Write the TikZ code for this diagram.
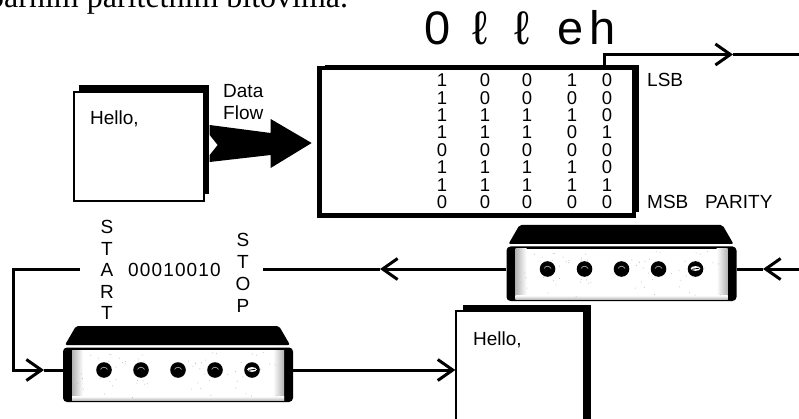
\documentclass[tikz,border=0pt]{standalone}
\usepackage{fontspec}
\setmainfont{Liberation Sans}
\newfontfamily\captionserif{Liberation Serif}
\usetikzlibrary{arrows.meta,calc,shadows}

\tikzset{
  wire/.style={line width=3pt},
  barb/.style={-{Straight Barb[length=15pt,width=21pt]}},
  txt/.style={inner sep=0pt, font=\fontsize{19}{22}\selectfont},
  bit/.style={inner sep=0pt, anchor=base, font=\fontsize{18.5}{19}\selectfont},
  glyph/.style={inner sep=0pt, anchor=base, font=\fontsize{47}{50}\selectfont},
  sheet/.style={draw, line width=1.3pt, fill=white, inner sep=0pt,
    general shadow={fill=black, shadow xshift=#1, shadow yshift=6.5pt}},
  sheet/.default=5pt,
  register/.style={draw, line width=4.5pt, fill=white, inner sep=0pt,
    minimum width=314.5pt, minimum height=147.5pt,
    general shadow={fill=black, shadow xshift=5pt, shadow yshift=3pt}},
  modembox/.style={inner sep=0pt, minimum width=230pt, minimum height=54pt},
  modem/.pic={
    % lid
    \fill[rounded corners=2pt] (-113,-25) -- (-102,-44) -- (101,-44) -- (112,-25) -- cycle;
    % case
    \fill[rounded corners=4pt] (-115,-22.5) rectangle (115,32);
    % front panel with a grainy finish
    \fill[white] (-106,-20) rectangle (106,30);
    \shade[left color=gray!60, right color=white] (-106,-20) rectangle (-95,30);
    \shade[left color=white, right color=gray!60] (95,-20) rectangle (106,30);
    \shade[top color=white, bottom color=gray!50] (-106,26.5) rectangle (106,30);
    \pgfmathsetseed{11}
    \foreach \i in {1,...,70} {
      \pgfmathsetmacro{\gx}{-104+208*rnd}
      \pgfmathsetmacro{\gy}{-18+46*rnd}
      \fill[gray!55] (\gx,\gy) circle (0.5pt);
    }
    % knobs
    \foreach \k in {-74,-37,0,37} {
      \fill (\k,0) circle (7.8pt);
      \draw[gray!70, line width=0.7pt] (\k-3.5,-0.5) .. controls (\k-1.5,-3.5) and (\k+1.5,-3.5) .. (\k+3.5,-0.5);
    }
    \fill (74,0) circle (7.8pt);
    \fill[white] (74,-0.5) ellipse (4.8pt and 2.4pt);
    \draw[line width=0.8pt] (70.5,0.3) -- (77.5,-0.8);
  }
}

\begin{document}
\begin{tikzpicture}[x=1pt,y=-1pt]
\useasboundingbox (0,0) rectangle (799,419);
\clip (0,0) rectangle (799,419);

% running text of the page above the figure
\node[anchor=base west, inner sep=0pt, font=\captionserif\fontsize{32}{36}\selectfont] (caption) at (-12,8) {parnim paritetnim bitovima.};

% source page
\node[sheet, minimum width=130pt, minimum height=109pt] (docA) at (139,146.5) {};
\node[txt, anchor=base west] (helloA) at (90,125) {Hello,};

% data flow arrow
\node[txt, anchor=base west] (flowA) at (223,98) {Data};
\node[txt, anchor=base west] (flowB) at (223,120) {Flow};
\fill[shift={($(docA.east)+(5,0)$)}] (0,-21.5) -- (61,-13.5) -- (61,-27.5) -- (102,-3.5) -- (61,21.5) -- (61,8.5) -- (0,15.5) -- (0,8.5) -- (8,-1.5) -- (0,-11.5) -- cycle;

% character register
\node[register] (reg) at (476.75,141.75) {};
\foreach \row [count=\r from 0] in {{1,0,0,1,0},{1,0,0,0,0},{1,1,1,1,0},{1,1,1,0,1},{0,0,0,0,0},{1,1,1,1,0},{1,1,1,1,1},{0,0,0,0,0}} {
  \foreach \b [count=\c from 0] in \row {
    \pgfmathsetmacro{\bx}{{442,485,527,572,607}[\c]}
    \node[bit] (bit-\r-\c) at (\bx,{86.8+17.4*\r}) {\b};
  }
}
\node[txt, anchor=base west] (lsb) at (647,86.5) {LSB};
\node[txt, anchor=base west] (msb) at (647,208.5) {MSB};
\node[txt, anchor=base west] (parity) at (705,208.5) {PARITY};

% characters read out of the columns
\node[glyph] (ch-1) at (437.5,45) {0};
\node[glyph] (ch-2) at (480,45) {ℓ};
\node[glyph] (ch-3) at (522,45) {ℓ};
\node[glyph] (ch-4) at (571,45) {e};
\node[glyph] (ch-5) at (603,45) {h};

% modems
\node[modembox] (modemR) at (621.5,269) {};
\pic at (modemR.center) {modem};
\node[modembox] (modemL) at (178,370) {};
\pic at (modemL.center) {modem};

% serial frame
\foreach \ch [count=\i from 0] in {S,T,A,R,T}
  \node[txt] (start-\i) at (107,{227+21.6*\i}) {\ch};
\foreach \ch [count=\i from 0] in {S,T,O,P}
  \node[txt] (stop-\i) at (243,{240+21.9*\i}) {\ch};
\node[txt, anchor=base west, font=\fontsize{19}{22}\selectfont\addfontfeature{LetterSpace=6}] (frame) at (128,276.8) {00010010};

% destination page
\node[sheet=7pt, minimum width=128pt, minimum height=128pt] (docB) at (520,375) {};
\node[txt, anchor=base west] (helloB) at (473,345) {Hello,};

% line coordinates
\coordinate (tapR) at (604,54.5);
\coordinate (tipA) at (733,54.5);
\coordinate (outR) at (799,54.5);
\coordinate (inR) at (799,269);
\coordinate (tipB) at (763,269);
\coordinate (tipC) at (380,269);
\coordinate (gapR) at (263,269);
\coordinate (gapL) at (80,269);
\coordinate (bendL) at (13,269);
\coordinate (tipD) at (44,370);

% connections
\draw[wire,barb] (reg.north -| tapR) -- (tapR) -- (tipA);
\draw[wire] (tipA) -- (outR);
\draw[wire,barb] (inR) -- (tipB);
\draw[wire] (tipB) -- (modemR.east);
\draw[wire,barb] (modemR.west) -- (tipC);
\draw[wire] (tipC) -- (gapR);
\draw[wire,barb] (gapL) -- (bendL) |- (tipD);
\draw[wire] (tipD) -- (modemL.west);
\draw[wire,barb] (modemL.east) -- (modemL.east -| docB.west);
\end{tikzpicture}
\end{document}
